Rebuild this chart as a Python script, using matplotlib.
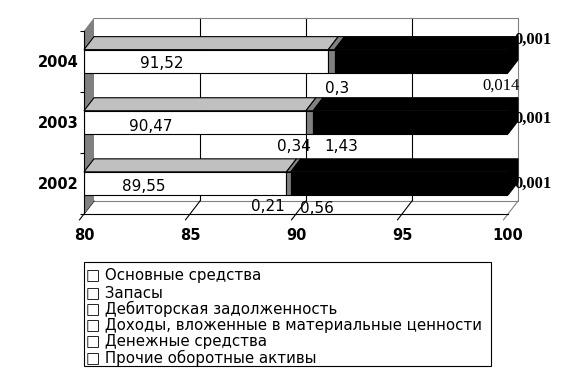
import matplotlib
matplotlib.use("Agg")
import matplotlib.pyplot as plt
from matplotlib.patches import Polygon, Rectangle

years = ["2002", "2003", "2004"]
fixed_assets = [89.55, 90.47, 91.52]      # Основные средства
inventories = [0.21, 0.34, 0.3]           # Запасы
receivables = [10.24, 9.19, 8.18]         # Дебиторская задолженность (black part)
series_names = ["Основные средства", "Запасы", "Дебиторская задолженность",
                "Доходы, вложенные в материальные ценности",
                "Денежные средства", "Прочие оборотные активы"]
label_texts = ["91,52", "0,3", "0,014", "0,001",
               "90,47", "0,34", "1,43", "0,001",
               "89,55", "0,21", "0,56", "0,001"]
xticks = [80, 85, 90, 95, 100]

W, H = 564, 376
fig = plt.figure(figsize=(W / 100, H / 100), dpi=100)
# front plane in pixels: x 84..508, y 30.7..214 (top-down)
ax = fig.add_axes([84 / W, (H - 214) / H, 424 / W, 183.3 / H])
ax.set_xlim(80, 100)
ax.set_ylim(-0.5, 2.5)

dx = 10 / 21.2
dy = 13 / 61.1
bh = 0.38
y0, y1 = -0.5, 2.5
gray = "#808080"

# back wall
ax.add_patch(Polygon([(80 + dx, y0 + dy), (100 + dx, y0 + dy), (100 + dx, y1 + dy), (80 + dx, y1 + dy)],
                     closed=True, facecolor="white", edgecolor="none", zorder=0, clip_on=False))
for xv in xticks[1:-1]:
    ax.plot([xv + dx, xv + dx], [y0 + dy, y1 + dy], color="black", lw=0.8, zorder=1, clip_on=False)
ax.plot([80 + dx, 100 + dx, 100 + dx, 80 + dx], [y1 + dy, y1 + dy, y0 + dy, y0 + dy],
        color=gray, lw=0.8, zorder=1, clip_on=False)
# floor slanted gridlines / ticks
for xv in xticks:
    ax.plot([xv + dx, xv - 0.45 * dx], [y0 + dy, y0 - 0.45 * dy],
            color=gray if xv == 100 else "black", lw=0.8, zorder=1, clip_on=False)
# left wall
ax.add_patch(Polygon([(80, y0), (80 + dx, y0 + dy), (80 + dx, y1 + dy), (80, y1)],
                     closed=True, facecolor=gray, edgecolor="none", zorder=2, clip_on=False))

# bars
for i, (a, b, c) in enumerate(zip(fixed_assets, inventories, receivables)):
    segs = [(80, a - 80, "white", "#c0c0c0"), (a, b, gray, gray), (a + b, c, "black", "black")]
    for left, width, fc, tc in segs:
        ax.barh(i, width, left=left, height=bh, color=fc, edgecolor="black", lw=0.8, zorder=3)
        top = i + bh / 2
        ax.add_patch(Polygon([(left, top), (left + width, top), (left + width + dx, top + dy), (left + dx, top + dy)],
                             closed=True, facecolor=tc, edgecolor="black", lw=0.8, zorder=3, clip_on=False))
    # right side face
    xr = a + b + c
    ax.add_patch(Polygon([(xr, i - bh / 2), (xr + dx, i - bh / 2 + dy), (xr + dx, i + bh / 2 + dy), (xr, i + bh / 2)],
                         closed=True, facecolor="black", edgecolor="black", lw=0.8, zorder=3, clip_on=False))

# axes styling
for s in ["top", "right"]:
    ax.spines[s].set_visible(False)
ax.spines["left"].set_zorder(4)
ax.spines["bottom"].set_zorder(4)
ax.set_xticks(xticks)
ax.set_xticklabels([str(v) for v in xticks], fontsize=10.5, fontweight="bold")
ax.tick_params(axis="x", length=0, pad=10)
ax.set_yticks([-0.5, 0.5, 1.5, 2.5])
ax.set_yticklabels([])
ax.tick_params(axis="y", which="major", length=3, width=0.8)
ax.set_yticks([0, 1, 2], minor=True)
ax.set_yticklabels(years, minor=True, fontsize=10.5, fontweight="bold")
ax.tick_params(axis="y", which="minor", length=0, pad=4)
ax.set_facecolor("none")

# data labels
label_pos = [(83.68, 1.955), (91.93, 1.562), (99.67, 1.595), (101.18, 2.353),
             (83.16, 0.924), (89.91, 0.597), (92.15, 0.597), (101.18, 1.063),
             (82.83, -0.042), (88.68, -0.370), (90.99, -0.418), (101.18, 0.0)]
for t, (xp, yp) in zip(label_texts, label_pos):
    if t == "0,001":
        ax.text(xp, yp, t, fontsize=12, family="Liberation Serif", fontweight="bold",
                ha="center", va="center", zorder=2, clip_on=False)
    elif t == "0,014":
        ax.text(xp, yp, t, fontsize=12, family="Liberation Serif",
                ha="center", va="center", zorder=5, clip_on=False)
    else:
        ax.text(xp, yp, t, fontsize=11, ha="center", va="center", zorder=5, clip_on=False)

# legend box
fig.patches.append(Rectangle((84 / W, (H - 366) / H), (491 - 84) / W, (366 - 262) / H,
                             transform=fig.transFigure, facecolor="white", edgecolor="black", lw=0.8))
for k, name in enumerate(series_names):
    fig.text(86 / W, (H - (275.7 + k * 16.5)) / H, "\u25a1 " + name, fontsize=10.8,
             ha="left", va="center")

fig.savefig("out.png", dpi=100)
